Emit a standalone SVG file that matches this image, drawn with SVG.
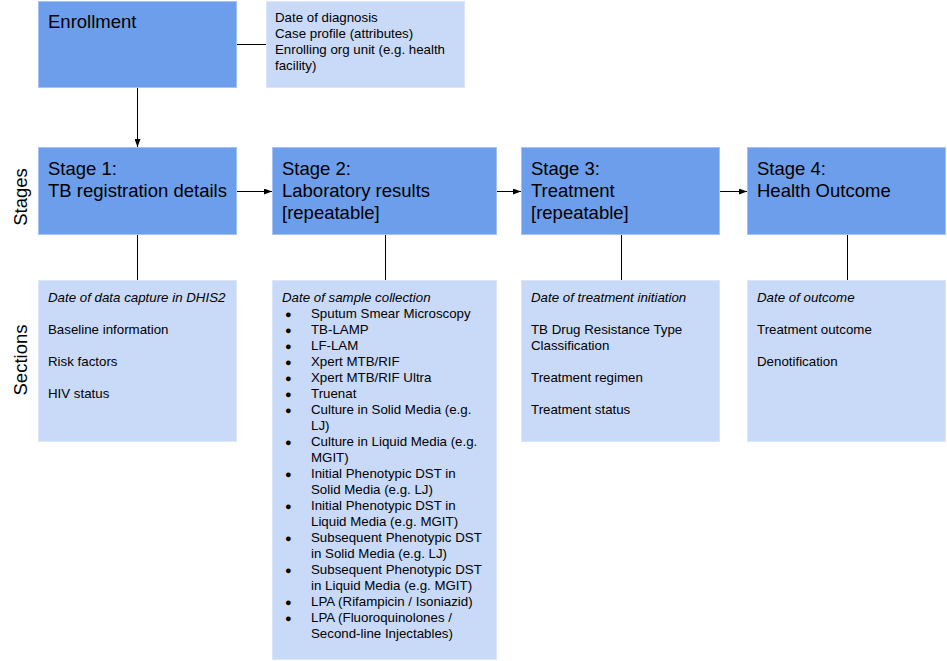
<svg xmlns="http://www.w3.org/2000/svg" width="947" height="661" viewBox="0 0 947 661">
<style>
.stage{fill:#6d9eeb;stroke:#a4c2f4;stroke-width:1}
.sec{fill:#c9daf8;stroke:#dbe6fa;stroke-width:1}
.big{font-family:"Liberation Sans",Arial,sans-serif;font-size:18.5px;fill:#000}
.sm{font-family:"Liberation Sans",Arial,sans-serif;font-size:13.3px;fill:#000}
.bul{font-family:"Liberation Sans",Arial,sans-serif;font-size:11px;fill:#000}
.it{font-style:italic}
.ln{stroke:#000;stroke-width:1;fill:none}
</style>
<defs>
<marker id="ah" viewBox="0 0 8 6" refX="8" refY="3" markerWidth="8" markerHeight="6" orient="auto" markerUnits="userSpaceOnUse">
<path d="M0,0 L8,3 L0,6 z" fill="#000"/>
</marker>
</defs>
<rect width="947" height="661" fill="#fff"/>
<g id="connectors">
<line class="ln" x1="237" y1="44.5" x2="266" y2="44.5"/>
<line class="ln" x1="137.5" y1="88" x2="137.5" y2="147" marker-end="url(#ah)"/>
<line class="ln" x1="237" y1="191.5" x2="272" y2="191.5" marker-end="url(#ah)"/>
<line class="ln" x1="497" y1="191.5" x2="521" y2="191.5" marker-end="url(#ah)"/>
<line class="ln" x1="720" y1="191.5" x2="747" y2="191.5" marker-end="url(#ah)"/>
<line class="ln" x1="137.5" y1="235" x2="137.5" y2="280"/>
<line class="ln" x1="385.5" y1="235" x2="385.5" y2="280"/>
<line class="ln" x1="621.5" y1="235" x2="621.5" y2="280"/>
<line class="ln" x1="847.5" y1="235" x2="847.5" y2="280"/>
</g>
<g id="labels">
<text class="big" transform="translate(27,197) rotate(-90)" text-anchor="middle">Stages</text>
<text class="big" transform="translate(27,360) rotate(-90)" text-anchor="middle">Sections</text>
</g>
<g id="enrollment">
<rect class="stage" x="38.5" y="1.5" width="198" height="86"/>
<text class="big" x="48" y="28">Enrollment</text>
</g>
<g id="enrollment-info">
<rect class="sec" x="266.5" y="1.5" width="198" height="86"/>
<text class="sm" x="275" y="22">Date of diagnosis</text>
<text class="sm" x="275" y="38">Case profile (attributes)</text>
<text class="sm" x="275" y="54">Enrolling org unit (e.g. health</text>
<text class="sm" x="275" y="70">facility)</text>
</g>
<g id="stage1">
<rect class="stage" x="38.5" y="147.5" width="198" height="87"/>
<text class="big" x="48" y="175">Stage 1:</text>
<text class="big" x="48" y="197">TB registration details</text>
</g>
<g id="stage2">
<rect class="stage" x="272.5" y="147.5" width="224" height="87"/>
<text class="big" x="282" y="175">Stage 2:</text>
<text class="big" x="282" y="197">Laboratory results</text>
<text class="big" x="282" y="219">[repeatable]</text>
</g>
<g id="stage3">
<rect class="stage" x="521.5" y="147.5" width="198" height="87"/>
<text class="big" x="531" y="175">Stage 3:</text>
<text class="big" x="531" y="197">Treatment</text>
<text class="big" x="531" y="219">[repeatable]</text>
</g>
<g id="stage4">
<rect class="stage" x="747.5" y="147.5" width="198" height="87"/>
<text class="big" x="757" y="175">Stage 4:</text>
<text class="big" x="757" y="197">Health Outcome</text>
</g>
<g id="sections1">
<rect class="sec" x="38.5" y="280.5" width="198" height="161"/>
<text class="sm it" x="48" y="302">Date of data capture in DHIS2</text>
<text class="sm" x="48" y="334">Baseline information</text>
<text class="sm" x="48" y="366">Risk factors</text>
<text class="sm" x="48" y="398">HIV status</text>
</g>
<g id="sections2">
<rect class="sec" x="272.5" y="280.5" width="224" height="379"/>
<text class="sm it" x="282" y="302">Date of sample collection</text>
<text class="bul" x="285" y="318">●</text><text class="sm" x="311" y="318">Sputum Smear Microscopy</text>
<text class="bul" x="285" y="334">●</text><text class="sm" x="311" y="334">TB-LAMP</text>
<text class="bul" x="285" y="350">●</text><text class="sm" x="311" y="350">LF-LAM</text>
<text class="bul" x="285" y="366">●</text><text class="sm" x="311" y="366">Xpert MTB/RIF</text>
<text class="bul" x="285" y="382">●</text><text class="sm" x="311" y="382">Xpert MTB/RIF Ultra</text>
<text class="bul" x="285" y="398">●</text><text class="sm" x="311" y="398">Truenat</text>
<text class="bul" x="285" y="414">●</text><text class="sm" x="311" y="414">Culture in Solid Media (e.g.</text>
<text class="sm" x="311" y="430">LJ)</text>
<text class="bul" x="285" y="446">●</text><text class="sm" x="311" y="446">Culture in Liquid Media (e.g.</text>
<text class="sm" x="311" y="462">MGIT)</text>
<text class="bul" x="285" y="478">●</text><text class="sm" x="311" y="478">Initial Phenotypic DST in</text>
<text class="sm" x="311" y="494">Solid Media (e.g. LJ)</text>
<text class="bul" x="285" y="510">●</text><text class="sm" x="311" y="510">Initial Phenotypic DST in</text>
<text class="sm" x="311" y="526">Liquid Media (e.g. MGIT)</text>
<text class="bul" x="285" y="542">●</text><text class="sm" x="311" y="542">Subsequent Phenotypic DST</text>
<text class="sm" x="311" y="558">in Solid Media (e.g. LJ)</text>
<text class="bul" x="285" y="574">●</text><text class="sm" x="311" y="574">Subsequent Phenotypic DST</text>
<text class="sm" x="311" y="590">in Liquid Media (e.g. MGIT)</text>
<text class="bul" x="285" y="606">●</text><text class="sm" x="311" y="606">LPA (Rifampicin / Isoniazid)</text>
<text class="bul" x="285" y="622">●</text><text class="sm" x="311" y="622">LPA (Fluoroquinolones /</text>
<text class="sm" x="311" y="638">Second-line Injectables)</text>
</g>
<g id="sections3">
<rect class="sec" x="521.5" y="280.5" width="198" height="161"/>
<text class="sm it" x="531" y="302">Date of treatment initiation</text>
<text class="sm" x="531" y="334">TB Drug Resistance Type</text>
<text class="sm" x="531" y="350">Classification</text>
<text class="sm" x="531" y="382">Treatment regimen</text>
<text class="sm" x="531" y="414">Treatment status</text>
</g>
<g id="sections4">
<rect class="sec" x="747.5" y="280.5" width="198" height="161"/>
<text class="sm it" x="757" y="302">Date of outcome</text>
<text class="sm" x="757" y="334">Treatment outcome</text>
<text class="sm" x="757" y="366">Denotification</text>
</g>
</svg>
